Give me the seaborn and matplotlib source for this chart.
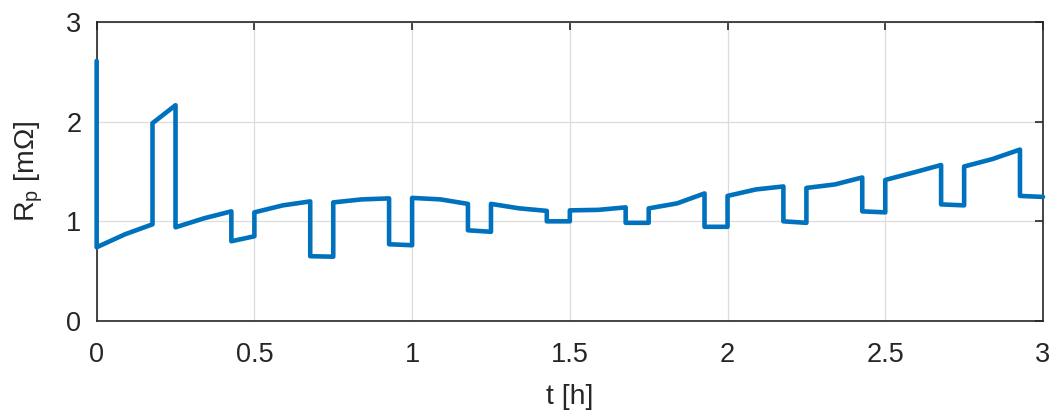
import numpy as np
import pandas as pd
import seaborn as sns
import matplotlib
matplotlib.use("Agg")
import matplotlib.pyplot as plt

# time [h] with repeated points at the switching instants
t_h = [0, 0, 0.09, 0.177, 0.177, 0.25, 0.25, 0.34, 0.427, 0.427, 0.5,
       0.5, 0.59, 0.677, 0.677, 0.75, 0.75, 0.84, 0.927, 0.927, 1.0,
       1.0, 1.09, 1.177, 1.177, 1.25, 1.25, 1.34, 1.427, 1.427, 1.5,
       1.5, 1.59, 1.677, 1.677, 1.75, 1.75, 1.84, 1.927, 1.927, 2.0,
       2.0, 2.09, 2.177, 2.177, 2.25, 2.25, 2.34, 2.427, 2.427, 2.5,
       2.5, 2.59, 2.677, 2.677, 2.75, 2.75, 2.84, 2.927, 2.927, 3.0]
# polarisation resistance [mOhm]
rp_mohm = [2.61, 0.74, 0.87, 0.97, 1.985, 2.165, 0.94, 1.03, 1.10, 0.80, 0.85,
           1.09, 1.16, 1.20, 0.65, 0.645, 1.19, 1.22, 1.23, 0.77, 0.76,
           1.235, 1.22, 1.175, 0.91, 0.895, 1.175, 1.13, 1.105, 1.0, 1.0,
           1.11, 1.115, 1.14, 0.985, 0.985, 1.13, 1.18, 1.28, 0.945, 0.945,
           1.255, 1.32, 1.35, 1.0, 0.985, 1.335, 1.37, 1.44, 1.10, 1.09,
           1.415, 1.49, 1.565, 1.17, 1.16, 1.55, 1.625, 1.72, 1.255, 1.245]

x_ticks = [0, 0.5, 1, 1.5, 2, 2.5, 3]
x_ticklabels = ["0", "0.5", "1", "1.5", "2", "2.5", "3"]
y_ticks = [0, 1, 2, 3]

sns.set_style("white")
plt.rcParams["font.family"] = ["Liberation Sans", "DejaVu Sans"]
plt.rcParams["mathtext.fontset"] = "custom"
plt.rcParams["mathtext.rm"] = "Liberation Sans"
plt.rcParams["mathtext.it"] = "Liberation Sans"

df = pd.DataFrame({"t": t_h, "Rp": rp_mohm})

fig = plt.figure(figsize=(10.53, 4.12), dpi=100)
ax = fig.add_axes([0.0918, 0.2209, 0.8987, 0.7257])
sns.lineplot(data=df, x="t", y="Rp", sort=False, estimator=None,
             color="#0072BD", lw=3.3, ax=ax, zorder=3, clip_on=False)

ax.set_xlim(0, 3)
ax.set_ylim(0, 3)
ax.set_xticks(x_ticks)
ax.set_xticklabels(x_ticklabels)
ax.set_yticks(y_ticks)
ax.grid(True, color="#dcdcdc", lw=0.9)
for s in ax.spines.values():
    s.set_color("#262626")
    s.set_linewidth(1.2)
    s.set_visible(True)
ax.tick_params(direction="in", length=6, width=1.2, color="#262626",
               labelsize=19.5, labelcolor="#262626", top=True, right=True)
ax.tick_params(axis="x", pad=15)
ax.tick_params(axis="y", pad=11)
ax.set_xlabel("t [h]", fontsize=20.5, color="#262626", labelpad=12)
ax.set_ylabel(r"R$_\mathregular{p}$ [m$\mathregular{\Omega}$]", fontsize=20.5,
              color="#262626", labelpad=15)

fig.savefig("out.png", dpi=100)
